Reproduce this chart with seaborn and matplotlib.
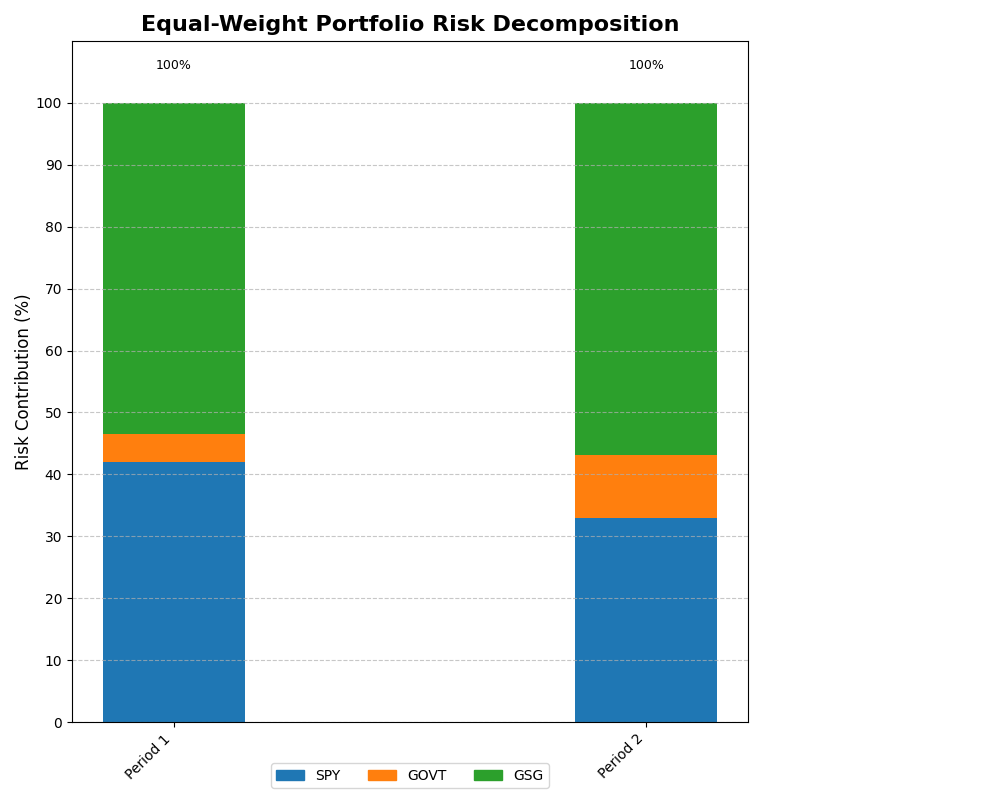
import pandas as pd
import matplotlib.pyplot as plt
import matplotlib.patches as mpatches
import seaborn as sns

periods = ['Period 1', 'Period 2']
assets = ['SPY', 'GOVT', 'GSG']
spy = [42.0, 33.0]
govt = [4.5, 10.1]
gsg = [53.5, 56.9]
colors = ['#1f77b4', '#ff7f0e', '#2ca02c']

df = pd.DataFrame({'period': periods, 'SPY': spy, 'GOVT': govt, 'GSG': gsg})
df['c1'] = df['SPY']
df['c2'] = df['SPY'] + df['GOVT']
df['c3'] = df['c2'] + df['GSG']

fig = plt.figure(figsize=(10, 8), dpi=100)
ax = fig.add_axes([0.072, 0.0975, 0.676, 0.85125])

# stack by drawing cumulative totals from the top down
for col, c in zip(['c3', 'c2', 'c1'], colors[::-1]):
    sns.barplot(data=df, x='period', y=col, color=c, saturation=1,
                width=0.3, ax=ax)

for i, tot in enumerate(df['c3']):
    ax.text(i, 105, f'{tot:.0f}%', ha='center', va='bottom', fontsize=9)

ax.set_xlim(-0.215, 1.215)
ax.set_ylim(0, 110)
ax.set_yticks(range(0, 101, 10))
ax.set_xlabel('')
ax.set_ylabel('Risk Contribution (%)', fontsize=12, labelpad=2)
ax.set_title('Equal-Weight Portfolio Risk Decomposition', fontsize=16,
             fontweight='bold', pad=7)
ax.set_xticks([0, 1])
ax.set_xticklabels(periods, rotation=45, ha='right')
ax.yaxis.grid(True, linestyle='--', alpha=0.7)

handles = [mpatches.Patch(color=c, label=a) for a, c in zip(assets, colors)]
ax.legend(handles=handles, loc='upper center', bbox_to_anchor=(0.5, -0.05), ncol=3)

plt.savefig('out.png', dpi=100)
